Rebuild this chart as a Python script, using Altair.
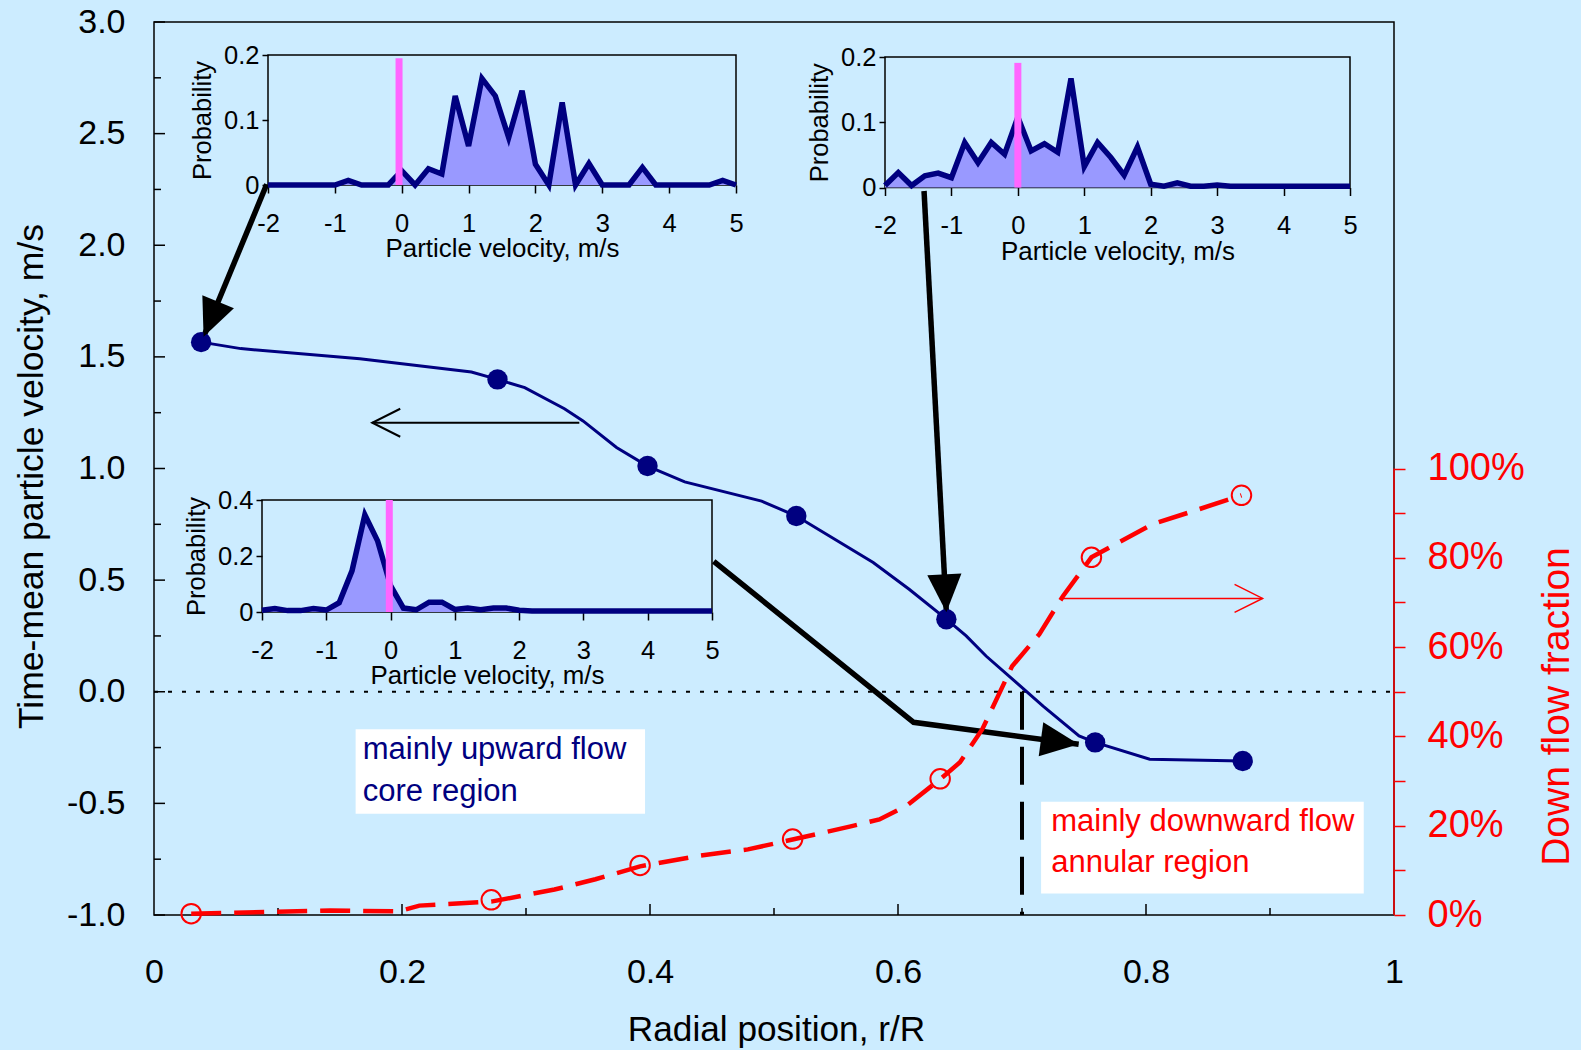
import altair as alt
import pandas as pd

# ---------------- colours / fonts ----------------
NAVY = "#000080"
RED = "#FF0000"
MAGENTA = "#FF66FF"
FILL = "#9999FF"
BG = "#CCECFF"
FONT = "Liberation Sans"
W, H = 1240, 893

# ---------------- main velocity profile ----------------
vel_r = [0.038, 0.277, 0.398, 0.518, 0.639, 0.759, 0.878]
vel_v = [1.566, 1.399, 1.011, 0.787, 0.325, -0.227, -0.310]
curve_r = [0.038, 0.070, 0.166, 0.256, 0.277, 0.299, 0.331, 0.346, 0.373, 0.398, 0.428,
           0.490, 0.518, 0.580, 0.609, 0.639, 0.655, 0.671, 0.717, 0.746, 0.759, 0.803, 0.878]
curve_v = [1.566, 1.537, 1.492, 1.432, 1.399, 1.362, 1.268, 1.213, 1.094, 1.011, 0.940,
           0.854, 0.787, 0.579, 0.459, 0.325, 0.250, 0.160, -0.064, -0.198, -0.227, -0.302, -0.310]

# ---------------- down flow fraction ----------------
down_r = [0.030, 0.272, 0.392, 0.515, 0.634, 0.756, 0.877]
down_f = [0.003, 0.034, 0.111, 0.170, 0.305, 0.801, 0.940]
down_curve_r = [0.030, 0.142, 0.197, 0.214, 0.272, 0.323, 0.356, 0.392, 0.440, 0.479, 0.515,
                0.561, 0.585, 0.607, 0.634, 0.650, 0.668, 0.692, 0.714, 0.733, 0.756, 0.775,
                0.805, 0.843, 0.877]
down_curve_f = [0.003, 0.010, 0.008, 0.021, 0.030, 0.057, 0.080, 0.109, 0.133, 0.147, 0.169,
                0.198, 0.214, 0.245, 0.304, 0.342, 0.416, 0.557, 0.629, 0.714, 0.801, 0.830,
                0.875, 0.909, 0.940]

# ---------------- inset histograms ----------------
hist_u = [-2.0, -1.8, -1.6, -1.4, -1.2, -1.0, -0.8, -0.6, -0.4, -0.2, 0.0, 0.2, 0.4, 0.6,
          0.8, 1.0, 1.2, 1.4, 1.6, 1.8, 2.0, 2.2, 2.4, 2.6, 2.8, 3.0, 3.2, 3.4, 3.6, 3.8,
          4.0, 4.2, 4.4, 4.6, 4.8, 5.0]
inset1_p = [0, 0, 0, 0, 0, 0, 0.007, 0, 0, 0, 0.022, 0, 0.025, 0.017, 0.137, 0.060, 0.164,
            0.137, 0.073, 0.145, 0.032, 0, 0.127, 0, 0.033, 0, 0, 0, 0.027, 0, 0, 0, 0, 0,
            0.007, 0]
inset2_p = [0.003, 0.023, 0.003, 0.018, 0.022, 0.015, 0.069, 0.038, 0.069, 0.051, 0.108,
            0.056, 0.067, 0.054, 0.167, 0.032, 0.069, 0.046, 0.019, 0.062, 0.005, 0.002,
            0.007, 0.002, 0.002, 0.004, 0.002, 0.002, 0.002, 0.002, 0.002, 0.002, 0.002,
            0.002, 0.002, 0.002]
inset3_p = [0.006, 0.012, 0.005, 0.005, 0.012, 0.007, 0.033, 0.147, 0.347, 0.253, 0.094,
            0.014, 0.008, 0.035, 0.035, 0.009, 0.014, 0.008, 0.014, 0.014, 0.006, 0.004,
            0.004, 0.004, 0.004, 0.004, 0.004, 0.004, 0.004, 0.004, 0.004, 0.004, 0.004,
            0.004, 0.004, 0.004]
inset_mean = [-0.04, 0.0, -0.02]
inset_mean_top = [0.195, 0.191, 0.4]

# ---------------- annotations ----------------
left_major = [-1.0, -0.5, 0.0, 0.5, 1.0, 1.5, 2.0, 2.5, 3.0]
left_minor = [-0.75, -0.25, 0.25, 0.75, 1.25, 1.75, 2.25, 2.75]
bottom_major = [0.2, 0.4, 0.6, 0.8]
bottom_minor = [0.1, 0.3, 0.5, 0.7, 0.9]
right_ticks = [0.0, 0.1, 0.2, 0.3, 0.4, 0.5, 0.6, 0.7, 0.8, 0.9, 1.0]

thick_id = ["a", "a", "b", "b", "c", "c", "c"]
thick_o = [0, 1, 0, 1, 0, 1, 2]
thick_r = [0.0909, 0.040, 0.621, 0.639, 0.4514, 0.6126, 0.7457]
thick_v = [2.273, 1.590, 2.243, 0.356, 0.5844, -0.137, -0.2355]
head_r = [0.040, 0.639, 0.7457]
head_v = [1.590, 0.356, -0.2355]
head_angle = [202.5, 177.0, 97.6]

left_arrow_r = [0.343, 0.176]
left_arrow_v = 1.205
red_arrow_r = [0.732, 0.894]
red_arrow_f = 0.709

box_r = [0.1626, 0.7154]
box_r2 = [0.396, 0.9756]
box_v = [-0.168, -0.493]
box_v2 = [-0.547, -0.904]
note_text = ["mainly upward flow", "core region", "mainly downward flow", "annular region"]
note_r = [0.1683, 0.1683, 0.7236, 0.7236]
note_v = [-0.262, -0.448, -0.583, -0.768]
note_color = [NAVY, NAVY, RED, RED]

TRI = "M0,0L-0.9,2L0.9,2Z"
CHEV = "M-1,2L0,0L1,2"

NEG1 = "datum.value < 0 ? '-' + format(-datum.value, '.1f') : format(datum.value, '.1f')"
NEG0 = "datum.value < 0 ? '-' + format(-datum.value, 'd') : format(datum.value, 'd')"

# ---------------- main scales / axes ----------------
xs_main = alt.Scale(domain=[0, 1], nice=False, zero=False)
ys_main = alt.Scale(domain=[-1, 3], nice=False, zero=False)
main_x_axis = alt.Axis(orient="bottom", values=[0, 0.2, 0.4, 0.6, 0.8, 1.0], format="~g",
                       ticks=False, domain=False, labelPadding=40, labelFontSize=34,
                       labelFlush=False,
                       title="Radial position, r/R", titleFontSize=35.2, titlePadding=23,
                       titleX=622)
main_y_axis = alt.Axis(orient="left", values=left_major, labelExpr=NEG1, ticks=False,
                       domain=False, labelPadding=29, labelFontSize=34, labelFlush=False,
                       title="Time-mean particle velocity, m/s", titleFontSize=35.5,
                       titlePadding=17, titleY=454)


def MX(f):
    return alt.X(f"{f}:Q", scale=xs_main, axis=main_x_axis)


def MY(f):
    return alt.Y(f"{f}:Q", scale=ys_main, axis=main_y_axis)


ticks_l = alt.Chart(pd.DataFrame({"t": left_major})).mark_rule(color="black", strokeWidth=1.5).encode(
    y=MY("t"), x=alt.value(0), x2=alt.value(11))
ticks_lm = alt.Chart(pd.DataFrame({"t": left_minor})).mark_rule(color="black", strokeWidth=1.5).encode(
    y=MY("t"), x=alt.value(0), x2=alt.value(7))
ticks_b = alt.Chart(pd.DataFrame({"t": bottom_major})).mark_rule(color="black", strokeWidth=1.5).encode(
    x=MX("t"), y=alt.value(H), y2=alt.value(H - 11))
ticks_bm = alt.Chart(pd.DataFrame({"t": bottom_minor})).mark_rule(color="black", strokeWidth=1.5).encode(
    x=MX("t"), y=alt.value(H), y2=alt.value(H - 7))

zero_line = alt.Chart(pd.DataFrame({"r": [0.0], "r2": [1.0], "v": [0.0]})).mark_rule(
    color="black", strokeWidth=2, strokeDash=[4, 10]).encode(x=MX("r"), x2="r2:Q", y=MY("v"))
v_line = alt.Chart(pd.DataFrame({"r": [0.7], "v": [0.0], "v2": [-1.0]})).mark_rule(
    color="black", strokeWidth=4, strokeDash=[38, 17]).encode(x=MX("r"), y=MY("v"), y2="v2:Q")

boxes = alt.Chart(pd.DataFrame({"r": box_r, "r2": box_r2, "v": box_v, "v2": box_v2})).mark_rect(
    color="white").encode(x=MX("r"), x2="r2:Q", y=MY("v"), y2="v2:Q")
notes = alt.Chart(pd.DataFrame({"r": note_r, "v": note_v, "txt": note_text, "c": note_color})).mark_text(
    align="left", baseline="middle", fontSize=31, font=FONT).encode(
    x=MX("r"), y=MY("v"), text="txt:N", color=alt.Color("c:N", scale=None))

vel_curve = alt.Chart(pd.DataFrame({"r": curve_r, "v": curve_v})).mark_line(
    color=NAVY, strokeWidth=3).encode(x=MX("r"), y=MY("v"))
vel_pts = alt.Chart(pd.DataFrame({"r": vel_r, "v": vel_v})).mark_circle(
    color=NAVY, size=415, opacity=1).encode(x=MX("r"), y=MY("v"))

left_arrow = alt.Chart(pd.DataFrame({"r": [left_arrow_r[0]], "r2": [left_arrow_r[1]], "v": [left_arrow_v]})).mark_rule(
    color="black", strokeWidth=2).encode(x=MX("r"), x2="r2:Q", y=MY("v"))
left_head = alt.Chart(pd.DataFrame({"r": [left_arrow_r[1]], "v": [left_arrow_v]})).mark_point(
    shape=CHEV, filled=False, color="black", size=784, strokeWidth=2, opacity=1, angle=270).encode(
    x=MX("r"), y=MY("v"))

thick = alt.Chart(pd.DataFrame({"id": thick_id, "o": thick_o, "r": thick_r, "v": thick_v})).mark_line(
    color="black", strokeWidth=5.5, strokeJoin="miter").encode(
    x=MX("r"), y=MY("v"), detail="id:N", order="o:Q")
heads = alt.Chart(pd.DataFrame({"r": head_r, "v": head_v, "a": head_angle})).mark_point(
    shape=TRI, filled=True, color="black", size=1444, opacity=1).encode(
    x=MX("r"), y=MY("v"), angle=alt.Angle("a:Q", scale=None))

main = alt.layer(ticks_l, ticks_lm, ticks_b, ticks_bm, zero_line, v_line, boxes, notes,
                 vel_curve, left_arrow, left_head, thick, vel_pts, heads)

# ---------------- right axis group (down flow fraction) ----------------
xs_r = alt.Scale(domain=[0, 1], nice=False, zero=False)
ys_r = alt.Scale(domain=[0, 2], nice=False, zero=False)
right_axis = alt.Axis(orient="right", values=right_ticks,
                      labelExpr="round(datum.value * 10) % 2 == 0 ? format(datum.value, '.0%') : ''",
                      tickSize=11, tickColor=RED, tickWidth=1.5, domain=False,
                      labelColor=RED, labelFontSize=38, labelPadding=22, labelFlush=False,
                      title="Down flow fraction", titleColor=RED, titleFontSize=39,
                      titleAngle=270, titleBaseline="top", titlePadding=13, titleY=684)


def RX(f):
    return alt.X(f"{f}:Q", scale=xs_r, axis=None)


def RY(f):
    return alt.Y(f"{f}:Q", scale=ys_r, axis=right_axis)


r_axis_line = alt.Chart(pd.DataFrame({"r": [1.0], "f": [0.0], "f2": [1.0]})).mark_rule(
    color=RED, strokeWidth=1.5).encode(x=RX("r"), y=RY("f"), y2="f2:Q")
down_line = alt.Chart(pd.DataFrame({"r": down_curve_r, "f": down_curve_f})).mark_line(
    color=RED, strokeWidth=4.5, strokeDash=[30, 13]).encode(x=RX("r"), y=RY("f"))
down_pts = alt.Chart(pd.DataFrame({"r": down_r, "f": down_f})).mark_point(
    shape="circle", filled=False, color=RED, size=380, strokeWidth=2, opacity=1).encode(
    x=RX("r"), y=RY("f"))
red_arrow = alt.Chart(pd.DataFrame({"r": [red_arrow_r[0]], "r2": [red_arrow_r[1]], "f": [red_arrow_f]})).mark_rule(
    color=RED, strokeWidth=1.5).encode(x=RX("r"), x2="r2:Q", y=RY("f"))
red_head = alt.Chart(pd.DataFrame({"r": [red_arrow_r[1]], "f": [red_arrow_f]})).mark_point(
    shape=CHEV, filled=False, color=RED, size=784, strokeWidth=1.5, opacity=1, angle=90).encode(
    x=RX("r"), y=RY("f"))

right = alt.layer(r_axis_line, down_line, down_pts, red_arrow, red_head)


# ---------------- insets ----------------
def inset(p, xrange, yrange, ymax, yvals, mean, mean_top, xoff, yoff):
    xs = alt.Scale(domain=[-2, 5], range=xrange, nice=False, zero=False)
    ys = alt.Scale(domain=[0, ymax], range=yrange, nice=False, zero=False)
    xax = alt.Axis(orient="bottom", offset=xoff, values=[-2, -1, 0, 1, 2, 3, 4, 5], labelExpr=NEG0,
                   tickSize=8, tickColor="black", tickWidth=1.5, domain=False, labelPadding=18,
                   labelFontSize=25.5, labelFlush=False, title="Particle velocity, m/s",
                   titleFontSize=25.9, titlePadding=0)
    yax = alt.Axis(orient="left", offset=yoff, values=yvals, format="~g", tickSize=6,
                   tickColor="black", tickWidth=1.5, domain=False, labelPadding=3,
                   labelFontSize=25.5, labelFlush=False, title="Probability", titleFontSize=25.5,
                   titlePadding=8)

    def IX(f):
        return alt.X(f"{f}:Q", scale=xs, axis=xax)

    def IY(f):
        return alt.Y(f"{f}:Q", scale=ys, axis=yax)

    frame = alt.Chart(pd.DataFrame({"u": [-2.0], "u2": [5.0], "p": [0.0], "p2": [ymax]})).mark_rect(
        fill="transparent", stroke="black", strokeWidth=1.5).encode(
        x=IX("u"), x2="u2:Q", y=IY("p"), y2="p2:Q")
    area = alt.Chart(pd.DataFrame({"u": hist_u, "p": p})).mark_area(
        color=FILL, opacity=1, line={"color": NAVY, "strokeWidth": 5.5}).encode(
        x=IX("u"), y=IY("p"))
    bar = alt.Chart(pd.DataFrame({"u": [mean], "p": [0.0], "p2": [mean_top]})).mark_rule(
        color=MAGENTA, strokeWidth=7).encode(x=IX("u"), y=IY("p"), y2="p2:Q")
    return alt.layer(frame, area, bar)


ins1 = inset(inset1_p, [114, 582], [163, 33], 0.2, [0, 0.1, 0.2], inset_mean[0], inset_mean_top[0],
             163 - H, -114)
ins2 = inset(inset2_p, [731, 1196], [165.5, 35], 0.2, [0, 0.1, 0.2], inset_mean[1], inset_mean_top[1],
             165.5 - H, -731)
ins3 = inset(inset3_p, [108, 558], [590, 478], 0.4, [0, 0.2, 0.4], inset_mean[2], inset_mean_top[2],
             590 - H, -108)

chart = alt.layer(main, right, ins1, ins2, ins3).resolve_scale(
    x="independent", y="independent"
).properties(
    width=W, height=H,
    padding={"left": 154, "top": 22, "right": 187, "bottom": 135},
    autosize=alt.AutoSizeParams(type="none"),
    background=BG,
).configure_view(
    stroke="black", strokeWidth=1.5
).configure_axis(
    grid=False, labelFont=FONT, titleFont=FONT, labelColor="black", titleColor="black",
    titleFontWeight="normal"
)

chart.save("out.html", embed_options={"renderer": "svg", "actions": False})
